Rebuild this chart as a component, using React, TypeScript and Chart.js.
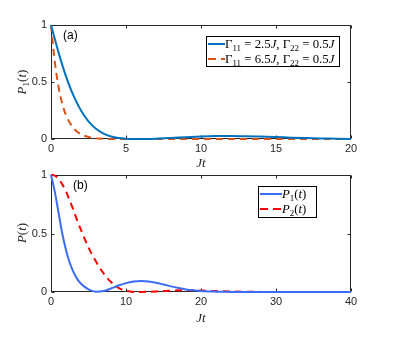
import React, { useEffect, useRef } from "react";
import { Chart, registerables } from "chart.js";
Chart.register(...registerables);

// ---------- data ----------
const timeA = [0, 0.25, 0.5, 0.75, 1, 1.5, 2, 2.5, 3, 3.5, 4, 4.5, 5, 5.5, 6, 7, 8, 9, 10, 11, 12, 13, 14, 15, 16, 17, 18, 19, 20];
const p1Gamma25 = [1, 0.88, 0.76, 0.65, 0.55, 0.38, 0.25, 0.155, 0.09, 0.048, 0.022, 0.008, 0.002, 0, 0, 0.003, 0.009, 0.016, 0.022, 0.026, 0.027, 0.025, 0.021, 0.017, 0.012, 0.008, 0.005, 0.003, 0.001];
const p1Gamma65 = [1, 0.68, 0.46, 0.31, 0.21, 0.095, 0.042, 0.017, 0.006, 0.002, 0, 0, 0, 0, 0, 0, 0, 0, 0, 0, 0, 0, 0, 0, 0, 0, 0, 0, 0];

const timeB = [0, 0.5, 1, 1.5, 2, 2.5, 3, 3.5, 4, 5, 6, 7, 8, 9, 10, 11, 12, 13, 14, 15, 16, 17, 18, 19, 20, 22, 24, 26, 28, 30, 35, 40];
const p1B = [1, 0.86, 0.68, 0.5, 0.36, 0.25, 0.17, 0.11, 0.07, 0.022, 0.002, 0.008, 0.03, 0.055, 0.076, 0.089, 0.094, 0.09, 0.079, 0.064, 0.048, 0.034, 0.022, 0.014, 0.008, 0.003, 0.001, 0, 0, 0, 0, 0];
const p2B = [1, 0.995, 0.97, 0.92, 0.86, 0.78, 0.7, 0.61, 0.53, 0.38, 0.26, 0.16, 0.085, 0.035, 0.01, 0.001, 0, 0.002, 0.005, 0.009, 0.012, 0.014, 0.015, 0.014, 0.012, 0.008, 0.004, 0.002, 0.001, 0, 0, 0];

const xTicksA = [0, 5, 10, 15, 20];
const xTicksB = [0, 10, 20, 30, 40];
const yTicks = [0, 0.5, 1];
const yTickLabels = ["0", "0.5", "1"];

const legendA = ["Γ_{11} = 2.5J, Γ_{22} = 0.5J", "Γ_{11} = 6.5J, Γ_{22} = 0.5J"];
const legendB = ["P_{1}(t)", "P_{2}(t)"];
const xTitle = "Jt";
const yTitleA = "P_{1}(t)";
const yTitleB = "P(t)";
const panelLabelA = "(a)";
const panelLabelB = "(b)";

// ---------- styles ----------
const FONT_SANS = "'Liberation Sans', Arial, sans-serif";
const FONT_MATH = "'Liberation Serif', 'DejaVu Serif', serif";
const AXIS = "#262626";

type Run = { text: string; italic: boolean; sub: boolean };
function toRuns(s: string): Run[] {
  const out: Run[] = [];
  const push = (ch: string, sub: boolean) => {
    const italic = /[A-Za-z]/.test(ch);
    const last = out[out.length - 1];
    if (last && last.italic === italic && last.sub === sub) last.text += ch;
    else out.push({ text: ch, italic, sub });
  };
  let i = 0;
  while (i < s.length) {
    if (s[i] === "_" && s[i + 1] === "{") {
      const end = s.indexOf("}", i);
      for (const ch of s.slice(i + 2, end)) push(ch, true);
      i = end + 1;
    } else {
      push(s[i], false);
      i++;
    }
  }
  return out;
}
function fontFor(r: Run, size: number) {
  const sz = r.sub ? size * 0.7 : size;
  return `${r.italic ? "italic " : ""}${sz}px ${FONT_MATH}`;
}
function measureMath(ctx: CanvasRenderingContext2D, s: string, size: number) {
  let w = 0;
  for (const r of toRuns(s)) {
    ctx.font = fontFor(r, size);
    w += ctx.measureText(r.text).width;
  }
  return w;
}
function drawMath(ctx: CanvasRenderingContext2D, s: string, x: number, yCenter: number, size: number, align: "left" | "center") {
  const w = measureMath(ctx, s, size);
  let cx = align === "center" ? x - w / 2 : x;
  const base = yCenter + size * 0.33;
  ctx.textAlign = "left";
  ctx.textBaseline = "alphabetic";
  for (const r of toRuns(s)) {
    ctx.font = fontFor(r, size);
    ctx.fillText(r.text, cx, r.sub ? base + size * 0.22 : base);
    cx += ctx.measureText(r.text).width;
  }
}

type PanelSpec = {
  xTicks: number[];
  xMax: number;
  padTop: number;
  xAxisHeight: number;
  yTitle: string;
  panelLabel: string;
  panelLabelX: number;
  legend: string[];
  legendColors: string[];
  legendDashed: boolean[];
  legendBox: { x: number; y: number; w: number; h: number };
  legendRows: number[];
  sampleLen: number;
  legendFont: number;
  titleY: number;
  yTitleY: number;
};

function decorPlugin(p: PanelSpec) {
  return {
    id: "decor",
    beforeDatasetsDraw(chart: any) {
      const { ctx, chartArea } = chart;
      const { left, right, top, bottom } = chartArea;
      const xs = chart.scales.x;
      const ys = chart.scales.y;
      ctx.save();
      ctx.strokeStyle = AXIS;
      ctx.lineWidth = 1;
      const L = Math.round(left) + 0.5, R = Math.round(right) - 0.5;
      const T = Math.round(top) + 0.5, B = Math.round(bottom) - 0.5;
      ctx.strokeRect(L, T, R - L, B - T);
      ctx.beginPath();
      for (const v of p.xTicks) {
        const px = Math.round(xs.getPixelForValue(v)) + 0.5;
        ctx.moveTo(px, B); ctx.lineTo(px, B - 3);
        ctx.moveTo(px, T); ctx.lineTo(px, T + 3);
      }
      for (const v of yTicks) {
        const py = Math.round(ys.getPixelForValue(v)) + 0.5;
        ctx.moveTo(L, py); ctx.lineTo(L + 3, py);
        ctx.moveTo(R, py); ctx.lineTo(R - 3, py);
      }
      ctx.stroke();
      ctx.restore();
    },
    afterDatasetsDraw(chart: any) {
      const { ctx, chartArea } = chart;
      const { left, right } = chartArea;
      ctx.save();
      ctx.fillStyle = "#000";
      // panel label
      ctx.font = `12px ${FONT_SANS}`;
      ctx.textAlign = "left";
      ctx.textBaseline = "middle";
      ctx.fillText(p.panelLabel, p.panelLabelX, chartArea.top + 11);
      // x title
      ctx.fillStyle = AXIS;
      drawMath(ctx, xTitle, (left + right) / 2, p.titleY, 13, "center");
      // y title
      ctx.save();
      ctx.translate(22, p.yTitleY);
      ctx.rotate(-Math.PI / 2);
      drawMath(ctx, p.yTitle, 0, 0, 13, "center");
      ctx.restore();
      // legend
      const b = p.legendBox;
      ctx.fillStyle = "#fff";
      ctx.fillRect(b.x, b.y, b.w, b.h);
      ctx.strokeStyle = "#000";
      ctx.lineWidth = 1;
      ctx.strokeRect(b.x + 0.5, b.y + 0.5, b.w - 1, b.h - 1);
      p.legend.forEach((txt, i) => {
        const yy = b.y + p.legendRows[i];
        ctx.beginPath();
        ctx.strokeStyle = p.legendColors[i];
        ctx.lineWidth = 2;
        ctx.setLineDash(p.legendDashed[i] ? [8, 5] : []);
        ctx.moveTo(b.x + 2, yy);
        ctx.lineTo(b.x + 2 + p.sampleLen, yy);
        ctx.stroke();
        ctx.setLineDash([]);
        ctx.fillStyle = "#000";
        drawMath(ctx, txt, b.x + 2 + p.sampleLen, yy, p.legendFont, "left");
      });
      ctx.restore();
    },
  };
}

function makeChart(canvas: HTMLCanvasElement, p: PanelSpec, datasets: any[]) {
  return new Chart(canvas, {
    type: "line",
    data: { datasets },
    options: {
      animation: false,
      responsive: false,
      devicePixelRatio: 1,
      layout: { padding: { left: 0, right: 64, top: p.padTop, bottom: 0 } },
      plugins: { legend: { display: false }, tooltip: { enabled: false } },
      scales: {
        x: {
          type: "linear",
          min: 0,
          max: p.xMax,
          grid: { display: false, drawTicks: false },
          border: { display: false },
          afterBuildTicks: (s: any) => { s.ticks = p.xTicks.map((v) => ({ value: v })); },
          afterFit: (s: any) => { s.height = p.xAxisHeight; },
          ticks: { font: { family: FONT_SANS, size: 11 }, color: AXIS, padding: 3, maxRotation: 0, autoSkip: false },
        },
        y: {
          type: "linear",
          min: 0,
          max: 1,
          grid: { display: false, drawTicks: false },
          border: { display: false },
          afterBuildTicks: (s: any) => { s.ticks = yTicks.map((v) => ({ value: v })); },
          afterFit: (s: any) => { s.width = 51; },
          ticks: {
            font: { family: FONT_SANS, size: 11 },
            color: AXIS,
            padding: 4,
            callback: (v: number) => {
              const k = yTicks.indexOf(v);
              return k >= 0 ? yTickLabels[k] : String(v);
            },
          },
        },
      },
    } as any,
    plugins: [decorPlugin(p)],
  });
}

function line(xs: number[], ys: number[], color: string, dashed: boolean) {
  return {
    data: xs.map((x, i) => ({ x, y: ys[i] })),
    borderColor: color,
    borderWidth: 2,
    borderDash: dashed ? [7, 5] : [],
    pointRadius: 0,
    cubicInterpolationMode: "monotone",
    fill: false,
    clip: false,
  };
}

export default function App() {
  const refA = useRef<HTMLCanvasElement>(null);
  const refB = useRef<HTMLCanvasElement>(null);
  useEffect(() => {
    const specA: PanelSpec = {
      xTicks: xTicksA, xMax: 20, padTop: 25, xAxisHeight: 36,
      yTitle: yTitleA, panelLabel: panelLabelA, panelLabelX: 63,
      legend: legendA, legendColors: ["#0072BD", "#D95319"], legendDashed: [false, true],
      legendBox: { x: 206, y: 36, w: 134, h: 31 }, legendRows: [8, 23], sampleLen: 17, legendFont: 12.8,
      titleY: 163, yTitleY: 82,
    };
    const specB: PanelSpec = {
      xTicks: xTicksB, xMax: 40, padTop: 15, xAxisHeight: 51,
      yTitle: yTitleB, panelLabel: panelLabelB, panelLabelX: 73,
      legend: legendB, legendColors: ["#3B6CF6", "#FF0000"], legendDashed: [false, true],
      legendBox: { x: 258, y: 26, w: 59, h: 32 }, legendRows: [8, 23], sampleLen: 22, legendFont: 12.8,
      titleY: 158, yTitleY: 73,
    };
    const a = makeChart(refA.current!, specA, [
      line(timeA, p1Gamma25, "#0072BD", false),
      line(timeA, p1Gamma65, "#D95319", true),
    ]);
    const b = makeChart(refB.current!, specB, [
      line(timeB, p1B, "#3B6CF6", false),
      line(timeB, p2B, "#FF0000", true),
    ]);
    return () => { a.destroy(); b.destroy(); };
  }, []);
  return (
    <div style={{ position: "absolute", left: 0, top: 0, width: 415, height: 343, background: "#fff" }}>
      <canvas ref={refA} width={415} height={175} style={{ position: "absolute", left: 0, top: 0 }} />
      <canvas ref={refB} width={415} height={183} style={{ position: "absolute", left: 0, top: 160 }} />
    </div>
  );
}
